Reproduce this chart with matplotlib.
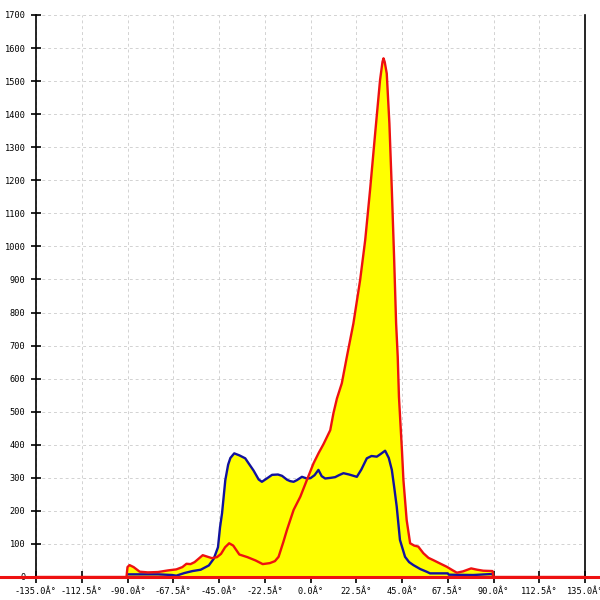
import matplotlib
matplotlib.use("Agg")
import matplotlib.pyplot as plt
import numpy as np

# angle (deg) / count readings for the two traces
red_angle = [-135, -90.5, -90, -89, -87, -84, -80, -75, -70, -66, -63, -61, -59, -57,
             -53, -51, -48.5, -46, -44, -42, -40, -38, -35, -31, -27, -23.5, -20, -17.5,
             -15.7, -13.4, -11.6, -8.3, -5, -2, 1.5, 4, 6.4, 9.7, 11.3, 13, 15.4, 18,
             21.1, 24.4, 26.9, 29.3, 31.8, 34.2, 35.4, 35.9, 36.5, 37.5, 38.8, 40, 41.1,
             42.1, 42.9, 43.5, 45, 45.7, 47.3, 49, 51, 53, 55.5, 58, 60.4, 64, 67, 70,
             72, 75, 79, 82, 85, 89.5, 90, 135]
red_count = [0, 0, 30, 36, 30, 16, 14, 15, 20, 23, 30, 40, 39, 45,
             66, 62, 57, 60, 70, 90, 102, 95, 68, 60, 50, 39, 42, 48,
             61, 105, 142, 203, 243, 290, 344, 375, 402, 444, 496, 540, 586, 670,
             767, 898, 1019, 1171, 1342, 1503, 1558, 1569, 1558, 1523, 1372, 1171, 969,
             768, 666, 545, 380, 293, 172, 102, 95, 92, 72, 58, 51, 40, 31, 20,
             13, 17, 26, 22, 19, 18, 0, 0]

blue_angle = [-90, -85, -75, -68, -66, -62, -58, -54, -50, -47.6, -45.5, -44.5, -43.5,
              -41.9, -40.5, -39.4, -37.5, -35, -32.1, -30, -28, -25.5, -23.9, -21, -18.9,
              -16, -14, -11.5, -10, -8.3, -6.7, -4.2, -1.8, 0, 2, 3.9, 5.5, 7.2, 10, 12.1,
              14, 16.2, 19, 22.8, 25, 27.7, 30, 32.6, 34.5, 36.7, 38.5, 40, 41.2, 42.4,
              44, 46.5, 48.5, 50.6, 54, 57.1, 58.8, 67.5, 68, 80, 86, 89.5, 90]
blue_count = [8, 8, 8, 6, 4, 12, 18, 22, 35, 55, 90, 150, 193,
              293, 340, 360, 374, 368, 359, 340, 322, 295, 288, 300, 309,
              310, 306, 294, 290, 288, 293, 303, 298, 299, 308, 324, 305, 298, 300, 302,
              308, 314, 310, 303, 325, 359, 366, 364, 372, 382, 360, 324, 270, 213,
              112, 61, 45, 36, 24, 16, 11, 11, 7, 6, 8, 9, 0]

x_ticks = np.arange(-135, 135.1, 22.5)
y_ticks = np.arange(0, 1701, 100)

fig = plt.figure(figsize=(6, 6), dpi=100)
ax = fig.add_axes([36 / 600, 23 / 600, 549 / 600, 562 / 600])

# yellow area under the higher of the two traces
grid = np.union1d(red_angle, blue_angle)
r = np.interp(grid, red_angle, red_count)
b = np.interp(grid, blue_angle, blue_count, left=0, right=0)
ax.fill_between(grid, 0, np.maximum(r, b), color="#ffff00", lw=0, zorder=2)

ax.plot(blue_angle, blue_count, color="#12129e", lw=1.7, zorder=3)
ax.plot(red_angle, red_count, color="#ee1111", lw=1.7, zorder=4)
ax.axhline(0, xmin=-36 / 549, xmax=564 / 549, color="#ee1111", lw=2.2,
           clip_on=False, zorder=5)

ax.set_xlim(-135, 135)
ax.set_ylim(0, 1700)
ax.set_xticks(x_ticks)
ax.set_xticklabels([f"{v:.1f}Â°" for v in x_ticks])
ax.set_yticks(y_ticks)
ax.set_yticklabels([f"{int(v)}" for v in y_ticks])

ax.grid(True, color="#d2d2d2", lw=0.7, linestyle=(0, (3, 3)), zorder=1)
ax.set_axisbelow(True)
ax.spines["top"].set_visible(False)
for s in ("left", "right", "bottom"):
    ax.spines[s].set_color("black")
    ax.spines[s].set_linewidth(1.2)

ax.tick_params(axis="x", direction="inout", length=8, width=1.2, pad=3)
ax.tick_params(axis="y", direction="inout", length=7, width=1.2, pad=4)
for lab in ax.get_xticklabels() + ax.get_yticklabels():
    lab.set_fontfamily("DejaVu Sans Mono")
    lab.set_fontsize(6.2)

fig.savefig("out.png", dpi=100)
